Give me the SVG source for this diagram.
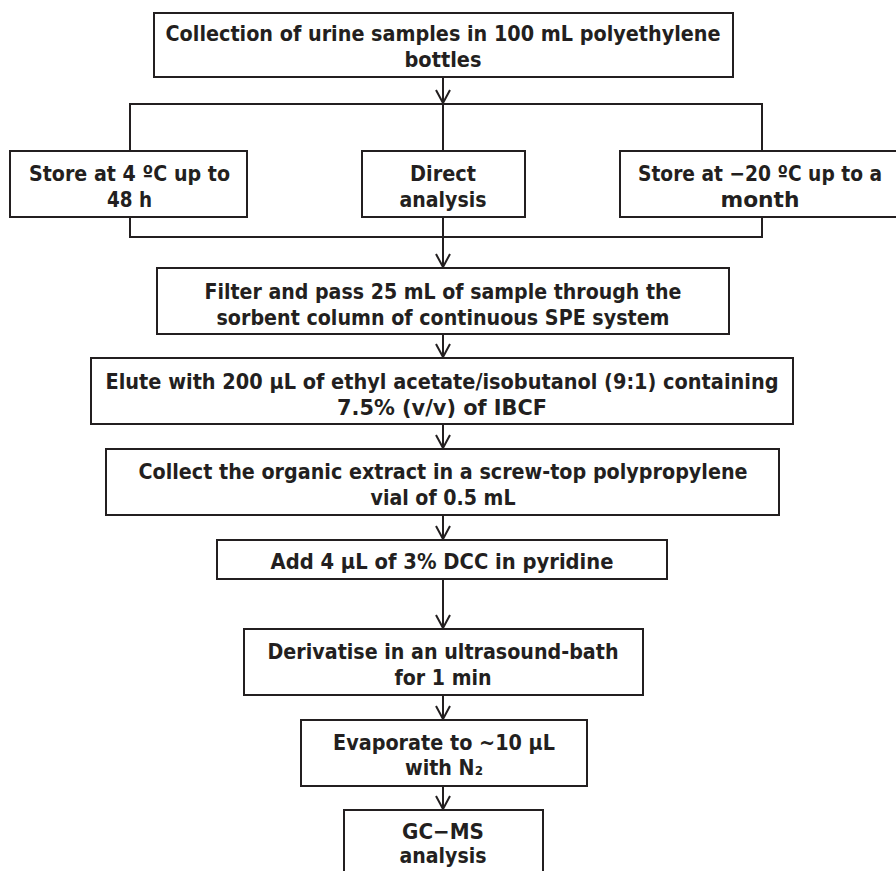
<svg xmlns="http://www.w3.org/2000/svg" width="896" height="871" viewBox="0 0 896 871">
<style>
.box{fill:#fff;stroke:#231f20;stroke-width:2}
.t{font-family:"DejaVu Sans","Verdana",sans-serif;font-weight:bold;font-size:21px;fill:#231f20;text-anchor:middle}
.c{fill:none;stroke:#231f20;stroke-width:2}
</style>
<defs>
<marker id="arr" viewBox="-15 -9 17 18" refX="0" refY="0" markerWidth="17" markerHeight="18" orient="auto" markerUnits="userSpaceOnUse">
<path d="M-13,-7 L0,0 L-13,7" fill="none" stroke="#231f20" stroke-width="2"/>
</marker>
</defs>
<rect width="896" height="871" fill="#fff"/>
<g id="connectors">
<path class="c" d="M443,77 V103" marker-end="url(#arr)"/>
<path class="c" d="M130,150 V104 H762 V150 M443,104 V150"/>
<path class="c" d="M130,217 V237 H762 V217 M443,217 V237"/>
<path class="c" d="M443,237 V267" marker-end="url(#arr)"/>
<path class="c" d="M443,334 V357" marker-end="url(#arr)"/>
<path class="c" d="M443,424 V448" marker-end="url(#arr)"/>
<path class="c" d="M443,515 V539" marker-end="url(#arr)"/>
<path class="c" d="M443,579 V628" marker-end="url(#arr)"/>
<path class="c" d="M443,695 V719" marker-end="url(#arr)"/>
<path class="c" d="M443,786 V809" marker-end="url(#arr)"/>
</g>
<g id="n1"><rect class="box" x="154" y="13" width="579" height="64"/>
<text class="t" x="443" y="40.5" textLength="555" lengthAdjust="spacingAndGlyphs">Collection of urine samples in 100 mL polyethylene</text>
<text class="t" x="443" y="67" textLength="77" lengthAdjust="spacingAndGlyphs">bottles</text></g>
<g id="n2"><rect class="box" x="10" y="151" width="237" height="66"/>
<text class="t" x="129.5" y="180.5" textLength="201" lengthAdjust="spacingAndGlyphs">Store at 4 ºC up to</text>
<text class="t" x="129.5" y="206.5" textLength="45" lengthAdjust="spacingAndGlyphs">48 h</text></g>
<g id="n3"><rect class="box" x="362" y="151" width="163" height="66"/>
<text class="t" x="443" y="180.5" textLength="66" lengthAdjust="spacingAndGlyphs">Direct</text>
<text class="t" x="443" y="206.5" textLength="87" lengthAdjust="spacingAndGlyphs">analysis</text></g>
<g id="n4"><rect class="box" x="620" y="151" width="290" height="66"/>
<text class="t" x="760" y="180.5" textLength="244" lengthAdjust="spacingAndGlyphs">Store at −20 ºC up to a</text>
<text class="t" x="760" y="206.5" textLength="79" lengthAdjust="spacingAndGlyphs">month</text></g>
<g id="n5"><rect class="box" x="157" y="268" width="572" height="66"/>
<text class="t" x="443" y="298.5" textLength="477" lengthAdjust="spacingAndGlyphs">Filter and pass 25 mL of sample through the</text>
<text class="t" x="443" y="324.5" textLength="453" lengthAdjust="spacingAndGlyphs">sorbent column of continuous SPE system</text></g>
<g id="n6"><rect class="box" x="91" y="358" width="702" height="66"/>
<text class="t" x="442" y="388.5" textLength="673" lengthAdjust="spacingAndGlyphs">Elute with 200 µL of ethyl acetate/isobutanol (9:1) containing</text>
<text class="t" x="442" y="414.5" textLength="210" lengthAdjust="spacingAndGlyphs">7.5% (v/v) of IBCF</text></g>
<g id="n7"><rect class="box" x="106" y="449" width="673" height="66"/>
<text class="t" x="443" y="478.5" textLength="609" lengthAdjust="spacingAndGlyphs">Collect the organic extract in a screw-top polypropylene</text>
<text class="t" x="443" y="504.5" textLength="145" lengthAdjust="spacingAndGlyphs">vial of 0.5 mL</text></g>
<g id="n8"><rect class="box" x="217" y="540" width="450" height="39"/>
<text class="t" x="442" y="569" textLength="343" lengthAdjust="spacingAndGlyphs">Add 4 µL of 3% DCC in pyridine</text></g>
<g id="n9"><rect class="box" x="244" y="629" width="399" height="66"/>
<text class="t" x="443" y="658.5" textLength="351" lengthAdjust="spacingAndGlyphs">Derivatise in an ultrasound-bath</text>
<text class="t" x="443" y="684.5" textLength="97" lengthAdjust="spacingAndGlyphs">for 1 min</text></g>
<g id="n10"><rect class="box" x="301" y="720" width="286" height="66"/>
<text class="t" x="444" y="749.5" textLength="222" lengthAdjust="spacingAndGlyphs">Evaporate to ~10 µL</text>
<text class="t" x="444" y="774.5" textLength="78" lengthAdjust="spacingAndGlyphs">with N₂</text></g>
<g id="n11"><rect class="box" x="344" y="810" width="199" height="80"/>
<text class="t" x="443" y="839" textLength="82" lengthAdjust="spacingAndGlyphs">GC−MS</text>
<text class="t" x="443" y="863" textLength="87" lengthAdjust="spacingAndGlyphs">analysis</text></g>
</svg>
